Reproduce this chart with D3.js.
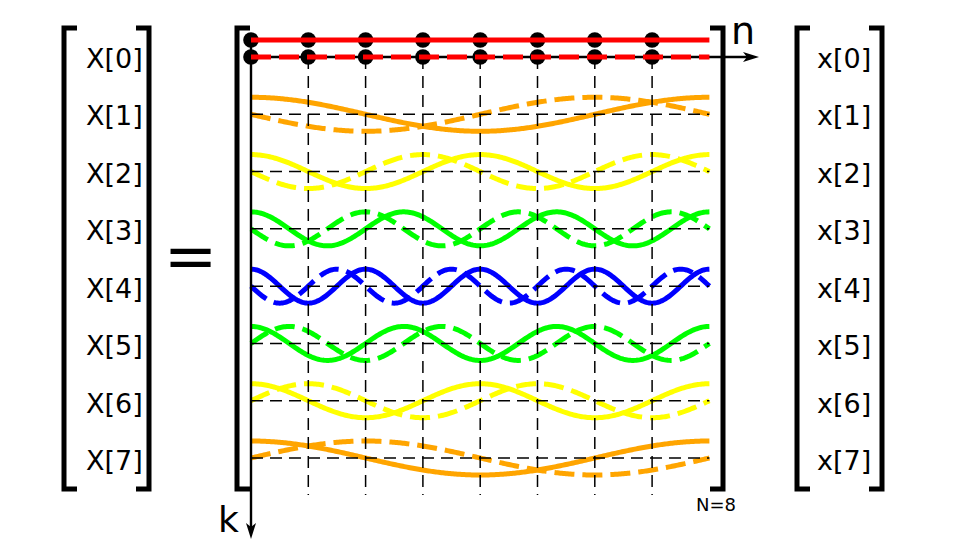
<!DOCTYPE html>
<html>
<head>
<meta charset="utf-8">
<script src="https://cdn.jsdelivr.net/npm/d3@7"></script>
<style>
  body{margin:0;background:#fff;}
  text{font-family:"DejaVu Sans",sans-serif;fill:#000;}
</style>
</head>
<body>
<svg id="chart" width="960" height="550"></svg>
<script>
// DFT matrix: row k shows cos (solid) and -sin (dashed) of 2*pi*k*n/N
const N=8;
const rows=[0,1,2,3,4,5,6,7];
const samples=[0,1,2,3,4,5,6,7];
// frequency actually drawn for each row (k>N/2 aliases to k-N)
const rowFreqs=[0,1,2,3,4,-3,-2,-1];
const rowColors=["#ff0000","#ffa500","#ffff00","#00ff00","#0000ff","#00ff00","#ffff00","#ffa500"];
const outLabels=["X[0]","X[1]","X[2]","X[3]","X[4]","X[5]","X[6]","X[7]"];
const inLabels=["x[0]","x[1]","x[2]","x[3]","x[4]","x[5]","x[6]","x[7]"];

const svg=d3.select("#chart");

const x=d3.scaleLinear().domain([0,N]).range([251,709.4]);
const yRow=d3.scaleLinear().domain([0,7]).range([57,458]);
const amp=d3.scaleLinear().domain([-1,1]).range([17,-17]);
const yLabel=d3.scaleLinear().domain([0,7]).range([67.5,470]);

// 曲线
const tSteps=d3.range(0,N+0.0001,N/320);
function wavePath(k,fn){
  const f=rowFreqs[k];
  return d3.line()
    .x(t=>x(t))
    .y(t=>yRow(k)+amp(fn(2*Math.PI*f*t/N)))(tSteps);
}

const curves=svg.append("g");
rows.filter(k=>k>0).forEach(k=>{
  curves.append("path")
    .attr("d",wavePath(k,Math.cos))
    .attr("fill","none").attr("stroke",rowColors[k]).attr("stroke-width",5);
  curves.append("path")
    .attr("d",wavePath(k,a=>-Math.sin(a)))
    .attr("fill","none").attr("stroke",rowColors[k]).attr("stroke-width",5)
    .attr("stroke-dasharray","20,8");
});

// 网格
const grid=svg.append("g").attr("stroke","#000").attr("stroke-width",1.5)
  .attr("stroke-dasharray","12,7");
rows.filter(k=>k>0).forEach(k=>{
  grid.append("line")
    .attr("x1",x(0)).attr("x2",x(N))
    .attr("y1",yRow(k)).attr("y2",yRow(k));
});
samples.filter(n=>n>0).forEach(n=>{
  grid.append("line")
    .attr("x1",x(n)).attr("x2",x(n))
    .attr("y1",yRow(0)).attr("y2",495);
});

// 坐标轴
function arrowHead(tx,ty,dir){
  // dir: "right" or "down"
  const L=16,W=5,notch=4;
  const pts=dir==="right"
    ? [[tx,ty],[tx-L,ty-W],[tx-L+notch,ty],[tx-L,ty+W]]
    : [[tx,ty],[tx-W,ty-L],[tx,ty-L+notch],[tx+W,ty-L]];
  return "M"+pts.map(p=>p.join(",")).join("L")+"Z";
}
const axes=svg.append("g");
axes.append("line").attr("x1",x(0)).attr("x2",752).attr("y1",yRow(0)).attr("y2",yRow(0))
  .attr("stroke","#000").attr("stroke-width",2.7);
axes.append("path").attr("d",arrowHead(759,yRow(0),"right")).attr("fill","#000");
axes.append("line").attr("x1",x(0)).attr("x2",x(0)).attr("y1",40).attr("y2",532)
  .attr("stroke","#000").attr("stroke-width",2.4);
axes.append("path").attr("d",arrowHead(x(0),539,"down")).attr("fill","#000");

// k=0 行:点 + 红线
const row0=svg.append("g");
samples.forEach(n=>{
  row0.append("circle").attr("cx",x(n)).attr("cy",yRow(0)+amp(Math.cos(0))).attr("r",7.8).attr("fill","#000");
  row0.append("circle").attr("cx",x(n)).attr("cy",yRow(0)+amp(-Math.sin(0))).attr("r",7.8).attr("fill","#000");
});
row0.append("path").attr("d",wavePath(0,Math.cos))
  .attr("fill","none").attr("stroke",rowColors[0]).attr("stroke-width",5);
row0.append("path").attr("d",wavePath(0,a=>-Math.sin(a)))
  .attr("fill","none").attr("stroke",rowColors[0]).attr("stroke-width",5)
  .attr("stroke-dasharray","20,8");

// 括号
function bracket(xv,arm){
  svg.append("path")
    .attr("d",`M${xv+arm},28H${xv}V489H${xv+arm}`)
    .attr("fill","none").attr("stroke","#000").attr("stroke-width",5)
    .attr("stroke-linejoin","miter");
}
bracket(64,13); bracket(149,-13);
bracket(237,13); bracket(723,-13);
bracket(797,13); bracket(882,-13);

// 文字
svg.append("g").selectAll("text").data(outLabels).join("text")
  .attr("x",86).attr("y",(d,i)=>yLabel(i)).attr("font-size",27).text(d=>d);
svg.append("g").selectAll("text").data(inLabels).join("text")
  .attr("x",817).attr("y",(d,i)=>yLabel(i)).attr("font-size",27).text(d=>d);
svg.append("text").attr("x",190.5).attr("y",278).attr("font-size",64)
  .attr("text-anchor","middle").text("=");
svg.append("text").attr("x",731).attr("y",44).attr("font-size",38).text("n");
svg.append("text").attr("x",218).attr("y",532).attr("font-size",36).text("k");
svg.append("text").attr("x",696).attr("y",511).attr("font-size",18).text("N=8");
</script>
</body>
</html>
